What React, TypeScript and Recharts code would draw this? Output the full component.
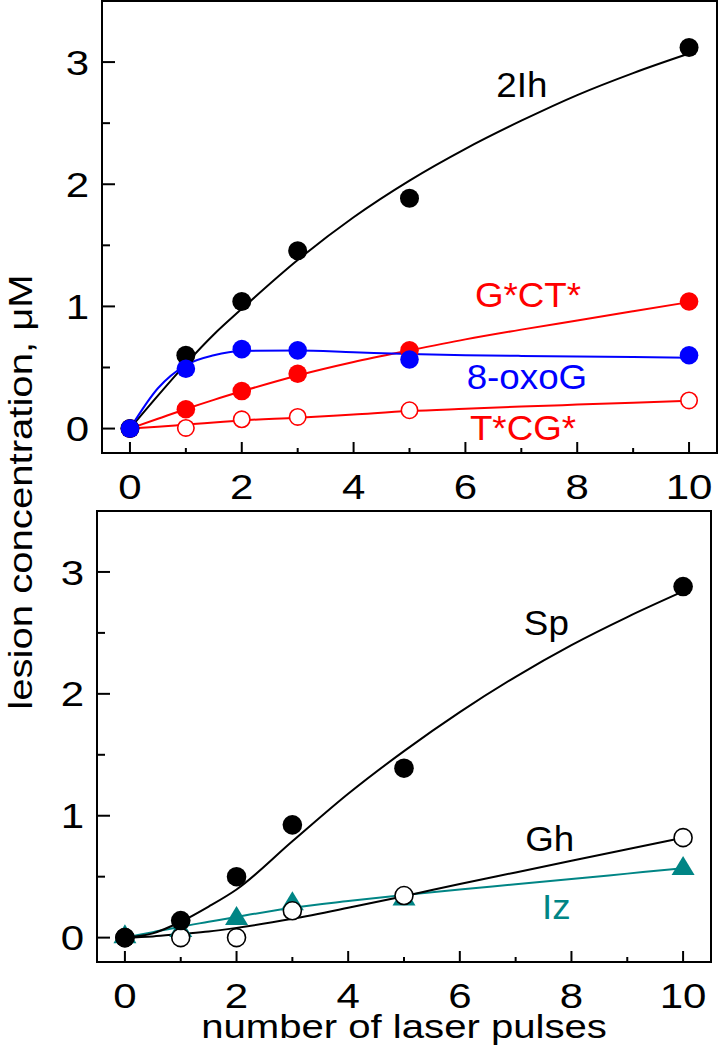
import React from 'react';
import { ComposedChart, Line, Scatter, XAxis, YAxis, ReferenceArea } from 'recharts';

const FONT = '"Liberation Sans", Arial, Helvetica, sans-serif';
const RED = '#ff0000';
const BLUE = '#0000ff';
const TEAL = '#008585';
const BLACK = '#000000';

// measured pulses
const pulses = [0, 1, 2, 3, 5, 10];
// points
const fitPulses = [0, 0.5, 1, 1.5, 2, 3, 4, 5, 6, 7, 8, 9, 10];

// top panel: measured values
const ih2Values = [0, 0.6, 1.04, 1.455, 1.885, 3.12];
const oxoGValues = [0, 0.49, 0.65, 0.64, 0.565, 0.6];
const gctValues = [0, 0.158, 0.307, 0.449, 0.64, 1.04];
const tcgValues = [0, 0.005, 0.076, 0.095, 0.15, 0.23];
// top panel: fitted curves
const ih2Fit = [0, 0.27, 0.53, 0.77, 0.98, 1.38, 1.73, 2.03, 2.29, 2.52, 2.73, 2.91, 3.07];
const oxoGFit = [0, 0.33, 0.52, 0.6, 0.635, 0.64, 0.625, 0.61, 0.6, 0.595, 0.59, 0.585, 0.58];
const gctFit = [0, 0.08, 0.16, 0.235, 0.305, 0.435, 0.545, 0.64, 0.73, 0.81, 0.885, 0.96, 1.035];
const tcgFit = [0, 0.015, 0.033, 0.05, 0.067, 0.088, 0.115, 0.143, 0.162, 0.18, 0.196, 0.212, 0.227];

// bottom panel: measured values
const spValues = [0, 0.14, 0.5, 0.925, 1.39, 2.88];
const ghValues = [0, 0.0, 0.0, 0.22, 0.345, 0.82];
const izValues = [0.02, 0.07, 0.17, 0.29, 0.33, 0.58];
// bottom panel: fitted curves
const spFit = [0, 0.035, 0.13, 0.255, 0.395, 0.79, 1.18, 1.53, 1.85, 2.14, 2.4, 2.63, 2.84];
const ghFit = [0, 0.01, 0.03, 0.05, 0.08, 0.155, 0.245, 0.34, 0.44, 0.535, 0.63, 0.725, 0.82];
const izFit = [0, 0.045, 0.09, 0.13, 0.17, 0.245, 0.3, 0.35, 0.395, 0.437, 0.48, 0.525, 0.57];

// tick values
const xTicks = [0, 1, 2, 3, 4, 5, 6, 7, 8, 9, 10];
const yTicks = [0, 0.5, 1, 1.5, 2, 2.5, 3];

// curve labels (text, x, y baseline in data units)
const topLabelText = ['2Ih', 'G*CT*', '8-oxoG', 'T*CG*'];
const topLabelX = [7.01, 7.12, 7.1, 7.03];
const topLabelY = [2.715, 0.995, 0.326, -0.09];
const topLabelColor = [BLACK, RED, BLUE, RED];

const bottomLabelText = ['Sp', 'Gh', 'Iz'];
const bottomLabelX = [7.55, 7.61, 7.73];
const bottomLabelY = [2.48, 0.71, 0.15];
const bottomLabelColor = [BLACK, BLACK, TEAL];

const toPoints = (xs: number[], ys: number[]) => xs.map((x, i) => ({ x, y: ys[i] }));
const toLabels = (texts: string[], xs: number[], ys: number[], colors: string[]) =>
  texts.map((t, i) => ({ x: xs[i], y: ys[i], text: t, color: colors[i] }));

const YTick = (props: any) => {
  const { x, y, payload } = props;
  const v = payload.value;
  const major = Number.isInteger(v);
  return (
    <g>
      <line x1={x} x2={x + (major ? 13 : 8)} y1={y} y2={y} stroke={BLACK} strokeWidth={2} />
      {major && (
        <text
          transform={`translate(${x - 13},${y}) scale(1.2,1)`}
          textAnchor="end"
          dy="0.36em"
          fontSize={35}
          fontFamily={FONT}
          fill={BLACK}
        >
          {v}
        </text>
      )}
    </g>
  );
};

const XTick = (props: any) => {
  const { x, y, payload } = props;
  const v = payload.value;
  const major = v % 2 === 0;
  return (
    <g>
      <line x1={x} x2={x} y1={y} y2={y - (major ? 11 : 5)} stroke={BLACK} strokeWidth={2} />
      {major && (
        <text
          transform={`translate(${x},${y + 46}) scale(1.2,1)`}
          textAnchor="middle"
          fontSize={35}
          fontFamily={FONT}
          fill={BLACK}
        >
          {v}
        </text>
      )}
    </g>
  );
};

const filledDot = (color: string, r: number) => (p: any) => (
  <circle cx={p.cx} cy={p.cy} r={r} fill={color} stroke="none" />
);
const openDot = (color: string, r: number) => (p: any) => (
  <circle cx={p.cx} cy={p.cy} r={r} fill="#ffffff" stroke={color} strokeWidth={1.6} />
);
const triangle = (color: string) => (p: any) => (
  <polygon
    points={`${p.cx},${p.cy - 11} ${p.cx - 11.5},${p.cy + 8} ${p.cx + 11.5},${p.cy + 8}`}
    fill={color}
    stroke="none"
  />
);
const labelShape = (p: any) => (
  <text
    transform={`translate(${p.cx},${p.cy}) scale(1.05,1)`}
    textAnchor="middle"
    fontSize={35}
    fontFamily={FONT}
    fill={p.payload.color}
  >
    {p.payload.text}
  </text>
);

function TopPanel() {
  return (
    <ComposedChart width={718} height={505} margin={{ top: 1, right: 1, left: 0, bottom: 0 }}>
      <XAxis
        dataKey="x"
        type="number"
        domain={[-0.5, 10.5]}
        ticks={xTicks}
        interval={0}
        allowDataOverflow
        axisLine={false}
        tickLine={false}
        tickSize={0}
        tickMargin={0}
        height={52}
        tick={XTick}
      />
      <YAxis
        type="number"
        domain={[-0.2, 3.5]}
        ticks={yTicks}
        interval={0}
        allowDataOverflow
        axisLine={false}
        tickLine={false}
        tickSize={0}
        tickMargin={0}
        width={102}
        tick={YTick}
      />
      <ReferenceArea x1={-0.5} x2={10.5} y1={-0.2} y2={3.5} fill="none" stroke={BLACK} strokeWidth={2} />
      <Line data={toPoints(fitPulses, tcgFit)} dataKey="y" type="monotone" stroke={RED} strokeWidth={2} dot={false} isAnimationActive={false} />
      <Line data={toPoints(fitPulses, gctFit)} dataKey="y" type="monotone" stroke={RED} strokeWidth={2} dot={false} isAnimationActive={false} />
      <Line data={toPoints(fitPulses, ih2Fit)} dataKey="y" type="monotone" stroke={BLACK} strokeWidth={2} dot={false} isAnimationActive={false} />
      <Line data={toPoints(fitPulses, oxoGFit)} dataKey="y" type="monotone" stroke={BLUE} strokeWidth={2} dot={false} isAnimationActive={false} />
      <Scatter data={toPoints(pulses, tcgValues)} dataKey="y" shape={openDot(RED, 8.2)} isAnimationActive={false} />
      <Scatter data={toPoints(pulses, gctValues)} dataKey="y" shape={filledDot(RED, 9.3)} isAnimationActive={false} />
      <Scatter data={toPoints(pulses, ih2Values)} dataKey="y" shape={filledDot(BLACK, 9.5)} isAnimationActive={false} />
      <Scatter data={toPoints(pulses, oxoGValues)} dataKey="y" shape={filledDot(BLUE, 9.3)} isAnimationActive={false} />
      <Scatter data={toLabels(topLabelText, topLabelX, topLabelY, topLabelColor)} dataKey="y" shape={labelShape} isAnimationActive={false} />
    </ComposedChart>
  );
}

function BottomPanel() {
  return (
    <ComposedChart width={718} height={550} margin={{ top: 11, right: 7, left: 0, bottom: 0 }}>
      <XAxis
        dataKey="x"
        type="number"
        domain={[-0.5, 10.5]}
        ticks={xTicks}
        interval={0}
        allowDataOverflow
        axisLine={false}
        tickLine={false}
        tickSize={0}
        tickMargin={0}
        height={88}
        tick={XTick}
      />
      <YAxis
        type="number"
        domain={[-0.2, 3.5]}
        ticks={yTicks}
        interval={0}
        allowDataOverflow
        axisLine={false}
        tickLine={false}
        tickSize={0}
        tickMargin={0}
        width={97}
        tick={YTick}
      />
      <ReferenceArea x1={-0.5} x2={10.5} y1={-0.2} y2={3.5} fill="none" stroke={BLACK} strokeWidth={2} />
      <Line data={toPoints(fitPulses, izFit)} dataKey="y" type="monotone" stroke={TEAL} strokeWidth={2} dot={false} isAnimationActive={false} />
      <Line data={toPoints(fitPulses, ghFit)} dataKey="y" type="monotone" stroke={BLACK} strokeWidth={2} dot={false} isAnimationActive={false} />
      <Line data={toPoints(fitPulses, spFit)} dataKey="y" type="monotone" stroke={BLACK} strokeWidth={2} dot={false} isAnimationActive={false} />
      <Scatter data={toPoints(pulses, izValues)} dataKey="y" shape={triangle(TEAL)} isAnimationActive={false} />
      <Scatter data={toPoints(pulses, ghValues)} dataKey="y" shape={openDot(BLACK, 9)} isAnimationActive={false} />
      <Scatter data={toPoints(pulses, spValues)} dataKey="y" shape={filledDot(BLACK, 9.8)} isAnimationActive={false} />
      <Scatter data={toLabels(bottomLabelText, bottomLabelX, bottomLabelY, bottomLabelColor)} dataKey="y" shape={labelShape} isAnimationActive={false} />
    </ComposedChart>
  );
}

export default function App() {
  return (
    <div style={{ position: 'absolute', left: 0, top: 0, width: 718, height: 1050, background: '#fff' }}>
      <div style={{ position: 'absolute', left: 0, top: 0 }}>
        <TopPanel />
      </div>
      <div style={{ position: 'absolute', left: 0, top: 500 }}>
        <BottomPanel />
      </div>
      <svg
        width={718}
        height={1050}
        style={{ position: 'absolute', left: 0, top: 0, pointerEvents: 'none' }}
      >
        <text
          transform="translate(32,492) rotate(-90) scale(1.18,1)"
          textAnchor="middle"
          fontSize={34}
          fontFamily={FONT}
          fill={BLACK}
        >
          lesion concentration, μM
        </text>
        <text
          transform="translate(404,1038) scale(1.18,1)"
          textAnchor="middle"
          fontSize={34}
          fontFamily={FONT}
          fill={BLACK}
        >
          number of laser pulses
        </text>
      </svg>
    </div>
  );
}
